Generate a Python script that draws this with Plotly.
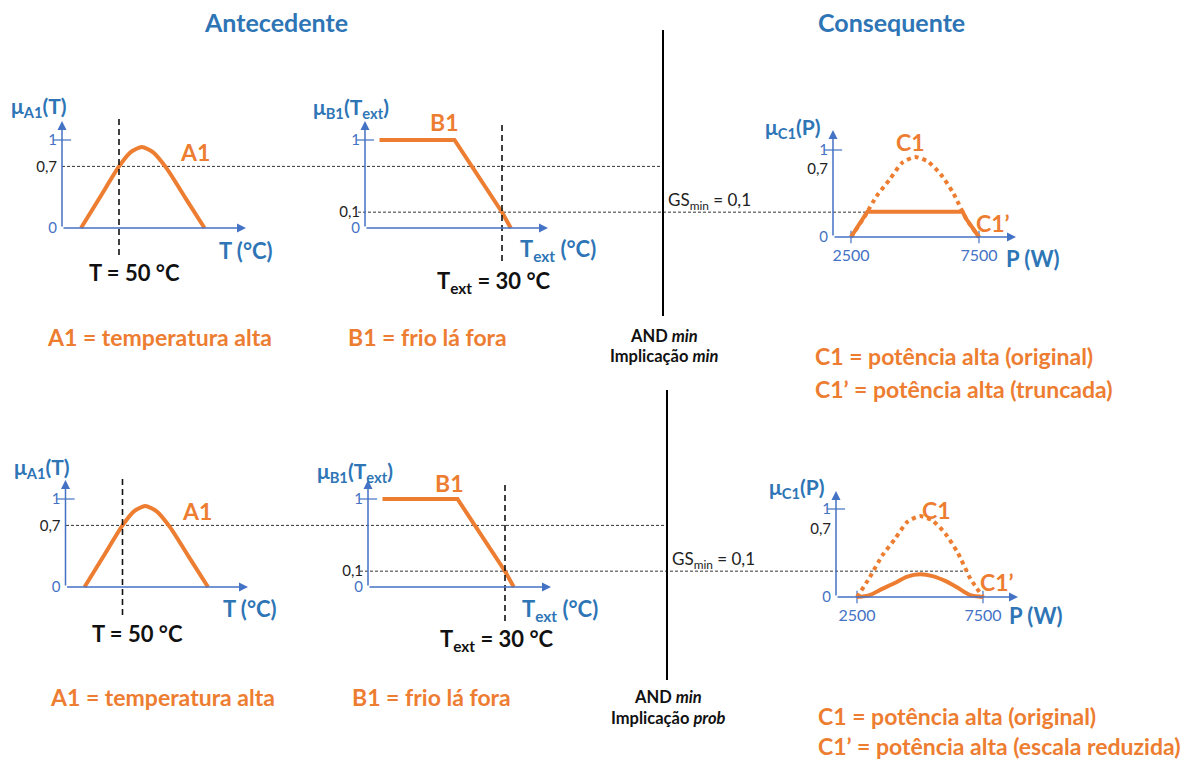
import numpy as np
import plotly.graph_objects as go

W, H = 1196, 760
ORANGE = "#ED7D31"
AXIS_BLUE = "#4472C4"
TITLE_BLUE = "#2E75B6"
FONT = "Lato"

# ---- membership functions ----
T_A1 = [30, 40, 50, 56, 62, 68, 75, 85, 95]                 # temperatura (°C)
MU_A1 = [0.0, 0.35, 0.70, 0.86, 0.92, 0.86, 0.68, 0.34, 0.0]

TEXT_B1 = [-19, 11, 30, 33.5]                                # temperatura externa (°C)
MU_B1 = [1.0, 1.0, 0.1, 0.0]

P_C1 = [2500, 3000, 3500, 4000, 4500, 5000, 5500, 6000, 6500, 7000, 7500]   # potência (W)
MU_C1 = [0.0, 0.076, 0.32, 0.55, 0.80, 0.89, 0.82, 0.63, 0.36, 0.072, 0.0]

# crisp inputs and axis ticks
T_INPUT = 50
TEXT_INPUT = 30
P_TICKS = [2500, 7500]
P_TICK_TEXT = ["2500", "7500"]

# schematic vertical scale of each panel (membership -> drawn height)
MU_KNOTS = [0, 0.1, 0.7, 1]
H_A = [0, 0.1, 0.7, 1]
H_B = [0, 0.18, 0.7, 1]
H_C = [0, 0.29, 0.78, 1]


def warp(mu, knots):
    return np.interp(mu, MU_KNOTS, knots)


def fmt(v):
    return f"{v:.1f}".replace(".", ",")


# firing strength of the rule
mu_a = float(np.interp(T_INPUT, T_A1, MU_A1))
mu_b = float(np.interp(TEXT_INPUT, TEXT_B1, MU_B1))
GS_MIN = min(mu_a, mu_b)


def px(x):
    return x / W


def py(y):
    return 1 - y / H


# panel geometry (pixels)
ROWS = [
    dict(a=dict(org=62, tip=246, v0=20, ppu=1.9, y0=228, ytip=121, yppu=88),
         b=dict(org=365, tip=548, v0=-24.8, ppu=2.5, y0=228, ytip=121, yppu=88),
         c=dict(org=833, tip=1016, v0=1797, ppu=0.0256, y0=237, ytip=130, yppu=87),
         g07=(62, 660), ggs=(358, 868), va=(119, 258), vb=(125, 262), sep=(663, 30, 316),
         mode="min"),
    dict(a=dict(org=65.5, tip=248, v0=20, ppu=1.9, y0=587, ytip=480, yppu=88),
         b=dict(org=368, tip=551, v0=-24.8, ppu=2.5, y0=587, ytip=480, yppu=88),
         c=dict(org=836, tip=1018, v0=1667, ppu=0.0252, y0=597, ytip=491, yppu=88),
         g07=(66, 667), ggs=(360, 968), va=(479, 615), vb=(485, 622), sep=(667, 390, 680),
         mode="prob"),
]

fig = go.Figure()
layout_axes = {}
shapes = []
annotations = []
PAD = 8


def add_panel(idx, g, yticks, xticks=None):
    xs = "" if idx == 1 else str(idx)
    x_tip_val = g["v0"] + (g["tip"] - g["org"]) / g["ppu"]
    y_tip_val = (g["y0"] - g["ytip"]) / g["yppu"]
    layout_axes[f"xaxis{xs}"] = dict(
        domain=[px(g["org"] - PAD), px(g["tip"] + 2)],
        range=[g["v0"] - PAD / g["ppu"], x_tip_val + 2 / g["ppu"]],
        anchor="free", position=py(g["y0"]),
        showgrid=False, zeroline=False, showline=False, ticks="",
        showticklabels=xticks is not None,
        tickvals=xticks[0] if xticks else None,
        ticktext=xticks[1] if xticks else None,
        tickfont=dict(family=FONT, size=16, color=AXIS_BLUE),
        ticklabelstandoff=7,
        fixedrange=True,
    )
    layout_axes[f"yaxis{xs}"] = dict(
        domain=[py(g["y0"] + PAD), py(g["ytip"] - 2)],
        range=[-PAD / g["yppu"], y_tip_val + 2 / g["yppu"]],
        anchor="free", position=px(g["org"]),
        showgrid=False, zeroline=False, showline=False, ticks="",
        tickvals=yticks[0], ticktext=yticks[1],
        tickfont=dict(family=FONT, size=15, color=AXIS_BLUE),
        ticklabelstandoff=5,
        fixedrange=True,
    )
    xr, yr = f"x{xs}", f"y{xs}"
    # axis arrows
    annotations.append(dict(xref=xr, yref=yr, axref=xr, ayref=yr,
                            x=x_tip_val, y=0, ax=g["v0"], ay=0, text="",
                            showarrow=True, arrowhead=2, arrowsize=1.2,
                            arrowwidth=1.5, arrowcolor=AXIS_BLUE))
    annotations.append(dict(xref=xr, yref=yr, axref=xr, ayref=yr,
                            x=g["v0"], y=y_tip_val, ax=g["v0"], ay=0, text="",
                            showarrow=True, arrowhead=2, arrowsize=1.2,
                            arrowwidth=1.5, arrowcolor=AXIS_BLUE))
    # tick mark at membership 1
    fig.add_trace(go.Scatter(x=[g["v0"]], y=[1.0], xaxis=xr, yaxis=yr, mode="markers",
                             marker=dict(symbol="line-ew", size=13,
                                         line=dict(color=AXIS_BLUE, width=1.2)),
                             cliponaxis=False, showlegend=False, hoverinfo="skip"))
    if xticks:
        fig.add_trace(go.Scatter(x=xticks[0], y=[0] * len(xticks[0]), xaxis=xr, yaxis=yr,
                                 mode="markers",
                                 marker=dict(symbol="line-ns", size=9,
                                             line=dict(color=AXIS_BLUE, width=1.2)),
                                 cliponaxis=False, showlegend=False, hoverinfo="skip"))
    return xr, yr


def black(t):
    return f"<span style='color:#222222'>{t}</span>"


def truncate(xv, hv, level):
    out_x, out_y = [], []
    for i in range(len(xv)):
        if i > 0:
            a, b = hv[i - 1] - level, hv[i] - level
            if a * b < 0:
                t = a / (a - b)
                out_x.append(xv[i - 1] + t * (xv[i] - xv[i - 1]))
                out_y.append(level)
        out_x.append(xv[i])
        out_y.append(min(hv[i], level))
    return out_x, out_y


def text(t, x, y, size, color, bold=True, xanchor="center"):
    annotations.append(dict(xref="paper", yref="paper", x=px(x), y=py(y), text=t,
                            showarrow=False, xanchor=xanchor, yanchor="middle",
                            font=dict(family=FONT, size=size, color=color,
                                      weight="bold" if bold else "normal")))


line_solid = dict(color=ORANGE, width=4)

for r, row in enumerate(ROWS):
    base = 3 * r
    xa, ya = add_panel(base + 1, row["a"],
                       ([0, warp(mu_a, H_A), 1], ["0", black(fmt(mu_a)), "1"]))
    xb, yb = add_panel(base + 2, row["b"],
                       ([0, warp(GS_MIN, H_B), 1], ["0", black(fmt(GS_MIN)), "1"]))
    xc, yc = add_panel(base + 3, row["c"],
                       ([0, warp(mu_a, H_C), 1], ["0", black(fmt(mu_a)), "1"]),
                       (P_TICKS, P_TICK_TEXT))

    fig.add_trace(go.Scatter(x=T_A1, y=warp(MU_A1, H_A), xaxis=xa, yaxis=ya, mode="lines",
                             line=dict(line_solid, shape="spline", smoothing=0.6),
                             showlegend=False, hoverinfo="skip"))
    fig.add_trace(go.Scatter(x=TEXT_B1, y=warp(MU_B1, H_B), xaxis=xb, yaxis=yb, mode="lines",
                             line=line_solid, showlegend=False, hoverinfo="skip"))

    h_c1 = warp(MU_C1, H_C)
    fig.add_trace(go.Scatter(x=P_C1, y=h_c1, xaxis=xc, yaxis=yc, mode="lines",
                             line=dict(color=ORANGE, width=4, dash="dot",
                                       shape="spline", smoothing=0.6),
                             showlegend=False, hoverinfo="skip"))
    if row["mode"] == "min":
        cx, cy = truncate(P_C1, h_c1, warp(GS_MIN, H_C))
        fig.add_trace(go.Scatter(x=cx, y=cy, xaxis=xc, yaxis=yc, mode="lines",
                                 line=line_solid, showlegend=False, hoverinfo="skip"))
    else:
        scaled = warp(GS_MIN * np.array(MU_C1), H_C)
        fig.add_trace(go.Scatter(x=P_C1, y=scaled, xaxis=xc, yaxis=yc, mode="lines",
                                 line=dict(line_solid, shape="spline", smoothing=0.8),
                                 showlegend=False, hoverinfo="skip"))

    guide = dict(type="line", line=dict(color="#333333", width=1, dash="3px,2px"), layer="below")
    shapes.append(dict(guide, xref="paper", yref=ya, x0=px(row["g07"][0]), x1=px(row["g07"][1]),
                       y0=warp(mu_a, H_A), y1=warp(mu_a, H_A)))
    shapes.append(dict(guide, xref="paper", yref=yb, x0=px(row["ggs"][0]), x1=px(row["ggs"][1]),
                       y0=warp(GS_MIN, H_B), y1=warp(GS_MIN, H_B)))
    vdash = dict(type="line", line=dict(color="#111111", width=1.6, dash="6px,4px"))
    shapes.append(dict(vdash, xref=xa, yref="paper", x0=T_INPUT, x1=T_INPUT,
                       y0=py(row["va"][0]), y1=py(row["va"][1])))
    shapes.append(dict(vdash, xref=xb, yref="paper", x0=TEXT_INPUT, x1=TEXT_INPUT,
                       y0=py(row["vb"][0]), y1=py(row["vb"][1])))
    sx, s0, s1 = row["sep"]
    shapes.append(dict(type="line", xref="paper", yref="paper", x0=px(sx), x1=px(sx),
                       y0=py(s0), y1=py(s1), line=dict(color="#000000", width=2)))

# headings
text("Antecedente", 276, 22, 25, TITLE_BLUE)
text("Consequente", 891, 22, 25, TITLE_BLUE)

# labels per row (pixel positions)
LABELS = [
    dict(mua=(39, 107), mub=(351, 108), muc=(793, 128), A1=(195, 152), B1=(445, 122),
         C1=(910, 142), C1p=(993, 223), Tt=(246, 250), Te=(558, 250), Pw=(1033, 258),
         Tin=(134, 272), Tein=(494, 282), leg_a=(159, 337), leg_b=(427, 337),
         and_=(664, 336), imp=(664, 356), gs=(709, 201), c1l=(813, 356), c1pl=(813, 389),
         imp_word="min", c1p_word="truncada"),
    dict(mua=(42, 468), mub=(355, 472), muc=(797, 488), A1=(197, 511), B1=(449, 483),
         C1=(936, 510), C1p=(997, 582), Tt=(250, 608), Te=(560, 610), Pw=(1036, 615),
         Tin=(137, 633), Tein=(497, 640), leg_a=(162, 697), leg_b=(431, 697),
         and_=(668, 697), imp=(668, 718), gs=(713, 560), c1l=(816, 716), c1pl=(816, 746),
         imp_word="prob", c1p_word="escala reduzida"),
]

for L in LABELS:
    text("μ<sub>A1</sub>(T)", *L["mua"], 21, TITLE_BLUE)
    text("μ<sub>B1</sub>(T<sub>ext</sub>)", *L["mub"], 21, TITLE_BLUE)
    text("μ<sub>C1</sub>(P)", *L["muc"], 21, TITLE_BLUE)
    text("A1", *L["A1"], 23, ORANGE)
    text("B1", *L["B1"], 23, ORANGE)
    text("C1", *L["C1"], 23, ORANGE)
    text("C1’", *L["C1p"], 23, ORANGE)
    text("T (°C)", *L["Tt"], 22, TITLE_BLUE)
    text("T<sub>ext</sub> (°C)", *L["Te"], 22, TITLE_BLUE)
    text("P (W)", *L["Pw"], 22, TITLE_BLUE)
    text(f"T = {T_INPUT} °C", *L["Tin"], 22, "#111111")
    text(f"T<sub>ext</sub> = {TEXT_INPUT} °C", *L["Tein"], 22, "#111111")
    text("A1 = temperatura alta", *L["leg_a"], 23, ORANGE)
    text("B1 = frio lá fora", *L["leg_b"], 23, ORANGE)
    text("AND <i>min</i>", *L["and_"], 16.5, "#111111")
    text(f"Implicação <i>{L['imp_word']}</i>", *L["imp"], 16.5, "#111111")
    text(f"GS<sub>min</sub> = {fmt(GS_MIN)}", *L["gs"], 17, "#222222", bold=False)
    text("C1 = potência alta (original)", *L["c1l"], 23, ORANGE, xanchor="left")
    text(f"C1’ = potência alta ({L['c1p_word']})", *L["c1pl"], 23, ORANGE, xanchor="left")

fig.update_layout(
    width=W, height=H,
    margin=dict(l=0, r=0, t=0, b=0),
    paper_bgcolor="white", plot_bgcolor="rgba(0,0,0,0)",
    showlegend=False,
    shapes=shapes,
    annotations=annotations,
    font=dict(family=FONT),
    **layout_axes,
)

fig.write_html("out.html")
